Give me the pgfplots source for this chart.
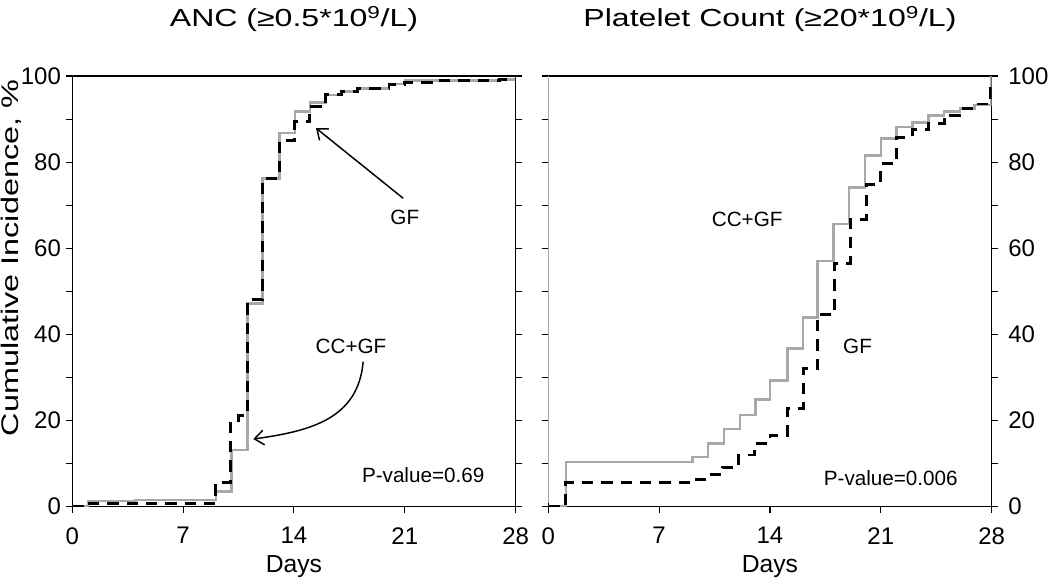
\documentclass[border=0pt]{standalone}
\usepackage{fontspec}
\setmainfont{Liberation Sans}
\newfontfamily\widefont[FakeStretch=1.3]{Liberation Sans}
\newfontfamily\widerfont[FakeStretch=1.35]{Liberation Sans}
\usepackage{pgfplots}
\pgfplotsset{compat=1.18}
\usetikzlibrary{arrows.meta}
\definecolor{cgray}{RGB}{168,168,168}
\pgfplotsset{
  panel/.style={
    scale only axis, width=332.55pt, height=323pt,
    xmin=0, xmax=28, ymin=0, ymax=100,
    xtick={0,7,14,21,28}, ytick={0,20,...,100}, minor ytick={10,30,...,90},
    tick align=outside, xtick pos=bottom, ytick pos=both,
    major tick length=5pt, minor tick length=5pt,
    axis line style={line width=0.8pt},
    every tick/.style={black, line width=0.8pt},
    tick label style={font=\fontsize{18}{20}\selectfont},
    xticklabel style={yshift=-7pt},
    /pgf/number format/assume math mode=true,
    xlabel={Days},
    xlabel style={font=\fontsize{18.5}{20}\selectfont, at={(axis description cs:0.5,0)}, anchor=base, yshift=-49pt},
    title style={font=\widefont\fontsize{18.5}{20}\selectfont, at={(axis description cs:0.5,1)}, anchor=base, yshift=31pt},
  },
}
\tikzset{
  grayline/.style={cgray, line width=1.9pt, const plot, line join=miter},
  dashline/.style={black, line width=2.2pt, dash pattern=on 8.5pt off 6pt, const plot, line join=miter},
  lab/.style={font=\fontsize{15.5}{17}\selectfont},
  pv/.style={font=\fontsize{15.5}{17}\selectfont},
}
\begin{document}
\begin{tikzpicture}
\useasboundingbox (-54.2pt,-56.5pt) rectangle (733.3pt,380pt);
% ---------------- left panel: ANC
\begin{axis}[panel, title={ANC (≥0.5*10\textsuperscript{9}/L)}, yticklabel pos=left]
\addplot[grayline] coordinates {
(0,0) (1.0,1.3) (4,1.5) (9.07,3.5) (10.06,13.2) (11.07,47.2) (12.0,76.2)
(13.07,86.8) (14.06,91.7) (15.0,93.8) (16.0,95.6) (17.0,96.4) (18.0,97.1)
(20,98.1) (21,98.9) (27,99.2) (28,99.2)};
\addplot[dashline] coordinates {
(0,0) (1.0,0.8) (9.07,5.6) (10.0,20.1) (10.5,21.1) (11.07,48.1) (12.0,76.2)
(13.07,85.1) (14.06,89.4) (15.0,92.9) (16.0,95.6) (17,96.4) (18,97.1)
(20,98.1) (21,98.5) (23.1,98.9) (27,99.2) (28,99.2)};
\node[lab] at (axis cs:21.0,67.2) {GF};
\node[lab] at (axis cs:17.6,37.3) {CC+GF};
\node[pv] at (axis cs:22.16,7.36) {P-value=0.69};
\draw[line width=1.1pt, -{Straight Barb[length=7pt,width=11pt]}] (axis cs:20.9,71.6) -- (axis cs:15.39,87.9);
\draw[line width=1.1pt, -{Straight Barb[length=7pt,width=11pt]}] (axis cs:18.37,33.67) to[out=-95,in=8,looseness=1.1] (axis cs:11.43,15.7);
\end{axis}
\node[rotate=90, anchor=base, font=\widerfont\fontsize{18}{19}\selectfont] at (-40pt,186.5pt) {Cumulative Incidence, \%};
% ---------------- right panel: Platelets
\begin{axis}[panel, at={(357pt,0pt)}, title={Platelet Count (≥20*10\textsuperscript{9}/L)}, yticklabel pos=right, yticklabel style={xshift=4pt}]
\addplot[grayline] coordinates {
(0,0) (1.11,10.4) (9.1,11.5) (10.1,14.7) (11.1,18.0) (12.1,21.3) (13.1,24.9)
(14.0,29.3) (15.1,36.7) (16.1,43.9) (17.0,57.0) (18.0,65.6) (19.0,74.1)
(20.0,81.5) (21.0,85.5) (22.0,88.2) (23.0,89.2) (24.0,90.8) (25.0,91.7)
(26,92.5) (26.9,93.3) (27.95,99.8) (28,99.8)};
\addplot[dashline] coordinates {
(0,0) (1.11,5.6) (9.0,6.3) (10,7.4) (11,9.1) (12,12.0) (13,14.7) (14.0,16.6)
(15.1,22.8) (16.1,32.0) (17.0,44.7) (18.1,56.5) (19.1,66.7) (20.1,74.8)
(21,79.7) (22,85.8) (23,87.5) (24,89.0) (25,90.9) (26,92.5) (27,93.5)
(27.95,97.5) (28,97.5)};
\node[lab] at (axis cs:12.56,66.7) {CC+GF};
\node[lab] at (axis cs:19.53,37.3) {GF};
\node[pv] at (axis cs:21.63,6.6) {P-value=0.006};
\end{axis}
\draw[cgray, line width=0.8pt] (357pt,3pt) -- (357pt,323pt);
\end{tikzpicture}
\end{document}
